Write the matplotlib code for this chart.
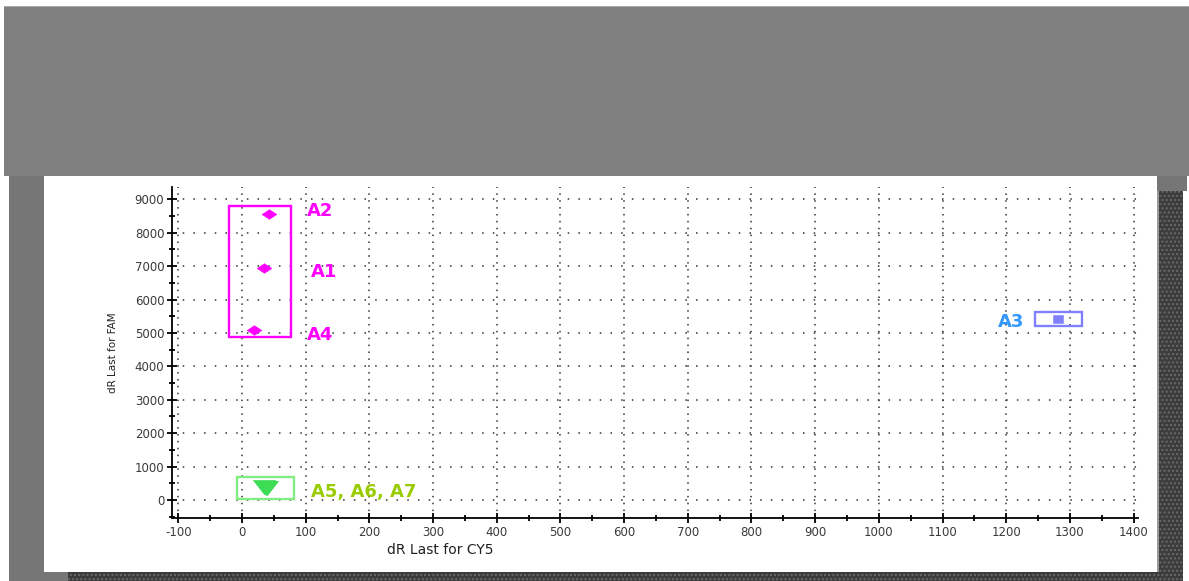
import matplotlib.pyplot as plt
import numpy as np
from matplotlib.patches import Rectangle
from matplotlib.ticker import MultipleLocator

plt.rcParams["font.family"] = ["DejaVu Sans"]
plt.rcParams["axes.unicode_minus"] = False

# Wells and their end-point fluorescence (dR Last) per channel.
well_names = ["A1", "A2", "A3", "A4", "A5", "A6", "A7"]
cy5_values = [35, 43, 1282, 18, 35, 39, 37]
fam_values = [6937, 8554, 5419, 5090, 385, 370, 360]
well_group = ["fam", "fam", "cy5", "fam", "neg", "neg", "neg"]

# Gate boxes drawn around each cluster.
gate_names = ["fam", "cy5", "neg"]
gate_x0 = [-20, 1246, -8]
gate_x1 = [77, 1319, 81]
gate_y0 = [4890, 5210, 30]
gate_y1 = [8800, 5638, 680]

# Cluster labels.
label_texts = ["A2", "A1", "A4", "A3", "A5, A6, A7"]
label_x = [102, 108, 102, 1228, 108]
label_y = [8503, 6667, 4790, 5189, 99]
label_group = ["fam", "fam", "fam", "cy5", "neg"]
label_ha = ["left", "left", "left", "right", "left"]

STYLE = {
    "fam": {"marker_color": "#ff00ff", "box_color": "#ff00ff", "text_color": "#ff00ff"},
    "cy5": {"marker_color": "#8080ff", "box_color": "#8080ff", "text_color": "#3399ff"},
    "neg": {"marker_color": "#3ddc55", "box_color": "#80ee80", "text_color": "#99cc00"},
}
MARKERS = {
    "fam": ([(-1, 0), (0, 0.66), (1, 0), (0, -0.66), (-1, 0)], 10.5),
    "cy5": ([(-1, -0.78), (1, -0.78), (1, 0.78), (-1, 0.78), (-1, -0.78)], 7.2),
    "neg": ([(-1, 0.64), (1, 0.64), (0, -0.64), (-1, 0.64)], 16),
}

W, H = 1189, 581
fig = plt.figure(figsize=(W / 100, H / 100), dpi=100)


def px_rect(x0, y0, x1, y1, **kw):
    """Rectangle in figure pixels, measured from the top-left corner."""
    return Rectangle((x0 / W, 1 - y1 / H), (x1 - x0) / W, (y1 - y0) / H,
                     transform=fig.transFigure, linewidth=0, **kw)


# Window chrome around the plot panel.
fig.patches.extend([
    px_rect(4, 6, W, 176, facecolor="#808080"),
    px_rect(4, 6, W, 7, facecolor="#a8a8a8"),
    px_rect(9, 176, 44, H, facecolor="#767676"),
    px_rect(44, 572, 68, H, facecolor="#767676"),
    px_rect(1157, 176, 1187, 191, facecolor="#767676"),
    px_rect(1157, 191, 1159, 572, facecolor="#9a9a9a"),
    px_rect(1159, 191, 1183, H, facecolor="#3c3c3c", hatch="....", edgecolor="#6a6a6a"),
    px_rect(68, 572, 1183, H, facecolor="#3c3c3c", hatch="....", edgecolor="#6a6a6a"),
])

ax = fig.add_axes([172 / W, 63 / H, 966 / W, 331 / H])
ax.patch.set_visible(False)
ax.set_xlim(-110, 1407)
ax.set_ylim(-540, 9370)

ax.xaxis.set_major_locator(MultipleLocator(100))
ax.xaxis.set_minor_locator(MultipleLocator(50))
ax.yaxis.set_major_locator(MultipleLocator(1000))
ax.yaxis.set_minor_locator(MultipleLocator(500))
ax.set_xticks(np.arange(-100, 1401, 100))
ax.set_yticks(np.arange(0, 9001, 1000))

ax.tick_params(which="major", direction="inout", length=7, width=1.3,
               labelsize=8.5, labelcolor="#3a3a3a", pad=2)
ax.tick_params(which="minor", direction="inout", length=5, width=1.3)
for side in ("top", "right"):
    ax.spines[side].set_visible(False)
for side in ("left", "bottom"):
    ax.spines[side].set_linewidth(1.3)

ax.grid(which="major", axis="y", color="#333333", linewidth=1.1, linestyle=(0, (1, 6)))
ax.grid(which="major", axis="x", color="#333333", linewidth=1.1, linestyle=(0, (1, 3.5)))
ax.set_axisbelow(True)

ax.set_xlabel("dR Last for CY5", fontsize=10, color="#222222")
ax.xaxis.set_label_coords((440 - 172) / 966, -31.5 / 331)
ax.xaxis.label.set_verticalalignment("center")
ax.set_ylabel("dR Last for FAM", fontsize=7.5, color="#222222")
ax.yaxis.set_label_coords((113 - 172) / 966, 0.5)
ax.yaxis.label.set_verticalalignment("center")

# Gate boxes.
for name, x0, x1, y0, y1 in zip(gate_names, gate_x0, gate_x1, gate_y0, gate_y1):
    ax.add_patch(Rectangle((x0, y0), x1 - x0, y1 - y0, fill=False,
                           edgecolor=STYLE[name]["box_color"], linewidth=1.7, zorder=3))

# Well points.
for name in gate_names:
    idx = [i for i, g in enumerate(well_group) if g == name]
    verts, size = MARKERS[name]
    ax.plot([cy5_values[i] for i in idx], [fam_values[i] for i in idx],
            linestyle="none", marker=verts, markersize=size,
            color=STYLE[name]["marker_color"], markeredgewidth=0.4, zorder=4)

# Cluster labels.
for text, x, y, grp, ha in zip(label_texts, label_x, label_y, label_group, label_ha):
    ax.text(x, y, text, fontsize=13, fontweight="bold", color=STYLE[grp]["text_color"],
            ha=ha, va="baseline", zorder=5)

fig.savefig("out.png", dpi=100)
